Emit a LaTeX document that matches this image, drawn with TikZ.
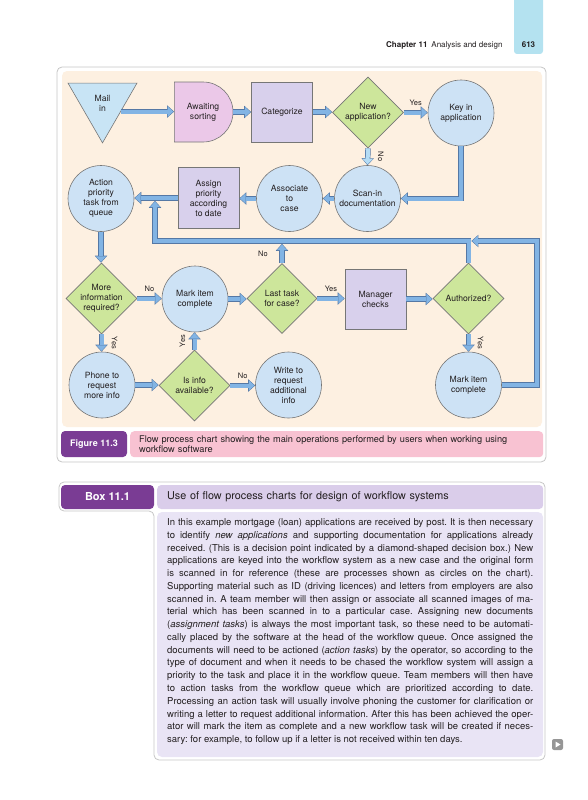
\documentclass[tikz,border=0pt]{standalone}
\usepackage{fontspec}
\setmainfont{TeX Gyre Heros}
\usetikzlibrary{shapes.geometric,shapes.misc,arrows.meta}

\definecolor{tabcyan}{RGB}{180,226,240}
\definecolor{framegrey}{RGB}{198,198,198}
\definecolor{cream}{RGB}{253,240,225}
\definecolor{edgegrey}{RGB}{118,118,118}
\definecolor{procblue}{RGB}{205,226,245}
\definecolor{mailblue}{RGB}{200,228,245}
\definecolor{askgreen}{RGB}{205,230,155}
\definecolor{opviolet}{RGB}{216,208,236}
\definecolor{waitpink}{RGB}{235,200,232}
\definecolor{flowblue}{RGB}{130,180,228}
\definecolor{flowpale}{RGB}{180,220,245}
\definecolor{flowedge}{RGB}{85,120,165}
\definecolor{tagpurple}{RGB}{122,60,148}
\definecolor{captionpink}{RGB}{248,194,210}
\definecolor{boxhead}{RGB}{218,205,234}
\definecolor{boxbody}{RGB}{233,228,245}
\definecolor{inkgrey}{RGB}{35,31,32}
\definecolor{playgrey}{RGB}{150,150,150}

\newcommand\jline[1]{\hbox to 366pt{#1}}

\begin{document}
\begin{tikzpicture}[x=1pt,y=-1pt,line join=miter,
	every node/.style={text=inkgrey},
	chart/.style={draw=edgegrey,line width=0.6pt,inner sep=0pt,align=center,font=\fontsize{8.6}{10}\selectfont},
	proc/.style={chart,circle,fill=procblue,minimum size=66pt},
	ask/.style={chart,diamond,aspect=1,fill=askgreen,minimum size=71pt},
	oper/.style={chart,rectangle,fill=opviolet,minimum width=61pt,minimum height=61pt},
	wait/.style={chart,rounded rectangle,rounded rectangle left arc=none,fill=waitpink,minimum width=58pt,minimum height=60pt},
	store/.style={chart,regular polygon,regular polygon sides=3,shape border rotate=180,fill=mailblue,minimum size=79.7pt},
	flow/.style={draw=flowblue,line width=4pt,shorten >=0.8pt,-{Triangle[length=5.6pt,width=10.4pt,line width=0pt 0 0]},
		preaction={draw=flowedge,line width=5.4pt,shorten >=0pt,-{Triangle[length=7pt,width=12.5pt,line width=0pt 0 0]}}},
	paleflow/.style={flow,draw=flowpale},
	lbl/.style={font=\fontsize{7.5}{8}\selectfont,inner sep=0pt},
	tag/.style={fill=tagpurple,rounded corners=4pt,text=white,inner sep=0pt},
	]
	\useasboundingbox (0,0) rectangle (588,800);

	% running head
	\fill[tabcyan,rounded corners=3pt] (514,-6) rectangle (543,54);
	\node[font=\fontsize{8}{9}\selectfont\bfseries] (page) at (528.5,45) {613};
	\node[font=\fontsize{8}{9}\selectfont,anchor=base east] (head) at (506,48) {\textbf{Chapter 11}\enspace Analysis and design};

	% figure panel
	\draw[framegrey,fill=white,line width=0.8pt,rounded corners=5pt] (57,67) rectangle (546,462);
	\fill[cream,rounded corners=5pt] (62,71) rectangle (542,427);
	\node[tag,minimum width=66pt,minimum height=26pt,font=\fontsize{9}{10}\selectfont\bfseries] (figtag) at (94,444) {Figure 11.3};
	\node[fill=captionpink,rounded corners=4pt,anchor=north west,minimum height=26pt,text width=395pt,inner xsep=9pt,inner ysep=0pt,align=left,font=\fontsize{9.2}{10.5}\selectfont] (figcap) at (130,431)
		{Flow process chart showing the main operations performed by users when working using\\workflow software};

	% chart nodes
	\path (102.5,103)   node[store] (mail)   {Mail\\in};
	\path (203,112)     node[wait]  (sort)   {Awaiting\\sorting};
	\path (282,112)     node[oper,minimum height=60pt] (categ) {Categorize};
	\path (368,112.5)   node[ask]   (newapp) {New\\application?};
	\path (461,113)     node[proc]  (keyin)  {Key in\\application};
	\path (367.5,198.5) node[proc]  (scan)   {Scan-in\\documentation};
	\path (289.5,198.5) node[proc]  (assoc)  {Associate\\to\\case};
	\path (208.5,198)   node[oper]  (assign) {Assign\\priority\\according\\to date};
	\path (101,198.5)   node[proc]  (action) {Action\\priority\\task from\\queue};
	\path (101.5,298.5) node[ask]   (more)   {More\\information\\required?};
	\path (195,299)     node[proc]  (markA)  {Mark item\\complete};
	\path (282,298.5)   node[ask,minimum size=70pt] (last) {Last task\\for case?};
	\path (375.5,299)   node[oper,minimum height=60pt] (mgr) {Manager\\checks};
	\path (468.5,298.5) node[ask]   (auth)   {Authorized?};
	\path (468.5,385)   node[proc]  (markB)  {Mark item\\complete};
	\path (102,385)     node[proc]  (phone)  {Phone to\\request\\more info};
	\path (194.5,385.5) node[ask]   (info)   {Is info\\available?};
	\path (288.5,385)   node[proc]  (write)  {Write to\\request\\additional\\info};

	% loops back to the queue
	\coordinate (back)   at (155,241);
	\coordinate (queue)  at (155,200.8);
	\coordinate (loopin) at (282,243.8);
	\coordinate (turn)   at (537,241);
	\coordinate (rejoin) at (471.4,241);
	\draw[flow] (auth.north) |- (back) -- (queue);
	\draw[flow] (markB.east) -| (turn) -- (rejoin);
	\draw[flow] (last.north) -- (loopin) node[lbl,midway,xshift=-19pt] {No};

	% connectors
	\draw[flow] (mail.-25) -- (mail.-25 -| sort.west);
	\draw[flow] (sort.east) -- (categ.west);
	\draw[flow] (categ.east) -- (categ.east -| newapp.west);
	\draw[flow] (newapp.east) -- (newapp.east -| keyin.west) node[lbl,midway,above=5pt] {Yes};
	\draw[paleflow] (newapp.south) -- (scan.north) node[lbl,midway,rotate=-90,yshift=13pt] {No};
	\draw[flow] (keyin.south) |- (scan.east);
	\draw[flow] (scan.west) -- (assoc.east);
	\draw[flow] (assoc.west) -- (assoc.west -| assign.east);
	\draw[flow] (assign.west) -- (assign.west -| action.east);
	\draw[flow] (action.south) -- (action.south |- more.north);
	\draw[flow] (more.east) -- (more.east -| markA.west) node[lbl,midway,above=5pt] {No};
	\draw[flow] (markA.east) -- (markA.east -| last.west);
	\draw[flow] (last.east) -- (last.east -| mgr.west) node[lbl,midway,above=5pt] {Yes};
	\draw[flow] (mgr.east) -- (mgr.east -| auth.west);
	\draw[flow] (auth.south) -- (markB.north) node[lbl,midway,rotate=-90,yshift=12pt] {Yes};
	\draw[flow] (more.south) -- (more.south |- phone.north) node[lbl,midway,rotate=-90,yshift=13pt] {Yes};
	\draw[flow] (phone.east) -- (phone.east -| info.west);
	\draw[flow] (info.north) -- (info.north |- markA.south) node[lbl,midway,rotate=90,yshift=12pt] {Yes};
	\draw[flow] (info.east) -- (info.east -| write.west) node[lbl,midway,above=5pt] {No};

	% box 11.1
	\draw[framegrey,line width=0.8pt,rounded corners=5pt] (59,482) -- (545,482) -- (545,760) -- (154,760) -- (154,511) -- (59,511) -- cycle;
	\node[tag,minimum width=93pt,minimum height=24pt,font=\fontsize{11}{12}\selectfont\bfseries] (boxtag) at (107.5,497) {Box 11.1};
	\node[fill=boxhead,rounded corners=4pt,anchor=west,minimum height=24pt,text width=366pt,inner xsep=10pt,inner ysep=0pt,align=left,font=\fontsize{10.8}{12}\selectfont] (boxtitle) at (157,497)
		{Use of flow process charts for design of workflow systems};
	\fill[boxbody,rounded corners=5pt] (157,512) rectangle (543,757);
	\node[anchor=north west,inner sep=0pt] (boxtext) at (167,518.5) {\vbox{\fontsize{9.5}{12.76}\selectfont\frenchspacing
		\jline{In this example mortgage (loan) applications are received by post. It is then necessary}
		\jline{to identify \textit{new applications} and supporting documentation for applications already}
		\jline{received. (This is a decision point indicated by a diamond-shaped decision box.) New}
		\jline{applications are keyed into the workflow system as a new case and the original form}
		\jline{is scanned in for reference (these are processes shown as circles on the chart).}
		\jline{Supporting material such as ID (driving licences) and letters from employers are also}
		\jline{scanned in. A team member will then assign or associate all scanned images of ma-}
		\jline{terial which has been scanned in to a particular case. Assigning new documents}
		\jline{(\textit{assignment tasks}) is always the most important task, so these need to be automati-}
		\jline{cally placed by the software at the head of the workflow queue. Once assigned the}
		\jline{documents will need to be actioned (\textit{action tasks}) by the operator, so according to the}
		\jline{type of document and when it needs to be chased the workflow system will assign a}
		\jline{priority to the task and place it in the workflow queue. Team members will then have}
		\jline{to action tasks from the workflow queue which are prioritized according to date.}
		\jline{Processing an action task will usually involve phoning the customer for clarification or}
		\jline{writing a letter to request additional information. After this has been achieved the oper-}
		\jline{ator will mark the item as complete and a new workflow task will be created if neces-}
		\hbox{sary: for example, to follow up if a letter is not received within ten days.}}};

	% play mark
	\fill[playgrey,rounded corners=2pt] (552,739) rectangle (563,750);
	\fill[white] (555.5,741.5) -- (560.5,744.5) -- (555.5,747.5) -- cycle;
\end{tikzpicture}
\end{document}
